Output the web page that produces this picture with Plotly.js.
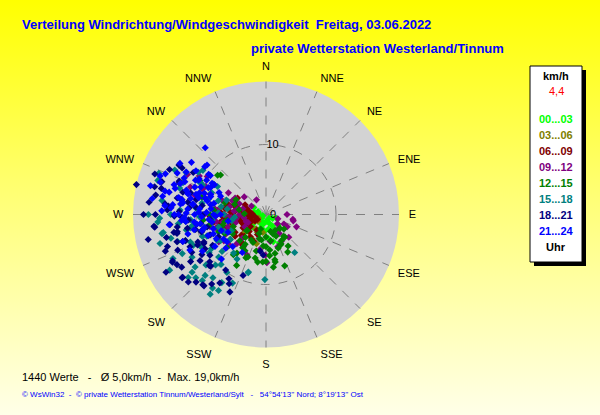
<!DOCTYPE html>
<html>
<head>
<meta charset="utf-8">
<script src="https://cdn.plot.ly/plotly-3.0.1.min.js"></script>
<style>
html,body{margin:0;padding:0;}
body{width:600px;height:415px;background:linear-gradient(to bottom,#ffff00 0%,#ffff70 45%,#ffffe8 100%);}
#chart{width:600px;height:415px;}
</style>
</head>
<body>
<div id="chart"></div>
<script>
// ---- data (r in km/h, theta in compass degrees) ----
const dirLabels = ['N','NNE','NE','ENE','E','ESE','SE','SSE','S','SSW','SW','WSW','W','WNW','NW','NNW'];
const dirAngles = [0,22.5,45,67.5,90,112.5,135,157.5,180,202.5,225,247.5,270,292.5,315,337.5];
const groupLabels = ['00...03','03...06','06...09','09...12','12...15','15...18','18...21','21...24'];
const groupColors = ['#00ff00','#808000','#800000','#800080','#008000','#008080','#000080','#0000ff'];
const radialTicks = [0,10];

const r0003 = [0.5,0.8,1.0,1.2,1.5,1.8,2.0,2.2,2.5,1.0,1.4,1.7,2.1,2.6,3.0,0.7,1.3,1.9,2.4,2.8,3.2,3.6,4.0,4.5,1.1,1.6,2.3,2.9,3.4,1.2,2.0,2.7,3.5,1.5,2.5];
const t0003 = [250,230,270,215,245,260,200,235,255,180,195,280,170,225,240,140,160,150,185,205,260,250,165,155,120,110,130,145,175,290,300,275,235,210,190];

const r0306 = [1.5,2.0,2.5,3.0,3.5,4.4,2.2,2.8,3.3,1.8,4.0,3.8,2.6,1.2,3.1,2.4,4.2,3.6];
const t0306 = [230,240,215,250,225,198,260,205,240,255,210,265,190,245,235,275,230,250];

const r0609 = [2.0,2.5,3.0,3.5,4.0,4.5,5.0,5.5,6.0,6.5,7.0,7.5,3.2,3.8,4.4,5.2,5.8,6.4,2.8,3.6,4.8,5.6,6.2,7.2,2.3,3.1,4.1,5.1,6.1,3.4,4.6,5.4,2.6,3.9,5.3,6.7,5.5,3.1,4.2,1.8,2.4,3.3,4.7,6.9,8.0,
  1.6,2.1,2.7,3.3,3.9,4.5,5.1,5.7,6.3,2.4,3.0,3.6,4.2,4.8,5.4,6.0,2.0,2.9,3.7,4.9,5.9,6.6,1.4,3.4,4.4];
const t0609 = [265,255,270,245,260,275,250,265,280,255,270,262,285,240,290,258,248,272,232,278,268,285,262,255,245,250,282,240,266,225,230,235,210,215,222,260,218,203,205,240,280,295,300,275,268,
  258,262,266,270,263,257,274,268,262,248,242,276,282,286,244,252,274,287,253,262,278,250,240,230,225];

const r0912 = [2.1,4.0,3.9,5.8,2.9,3.9,6.9,4.9,12.6,10.0,4.0,2.5,5.0,6.0,7.0,8.0,9.0,4.5,5.5,6.5,7.5,8.5,3.5,4.2,5.2,6.2,7.2,3.0,5.8,6.8,4.8,7.8,9.5,10.5,11.0,3.3,4.4,6.4,5.6,2.7,3.6,5.1,7.4,8.8,6.6,1.8,3.0,4.6,2.4,5.9,
  3.2,3.8,4.6,5.3,6.1,6.8,7.6,8.2,3.4,4.1,5.0,5.7,6.4,7.1,4.3,5.4,6.3,7.3,2.8,8.6,9.8,11.5,3.5,4.7];
const t0912 = [129,103,171,181,118,100,179,160,297,303,309,327,265,270,275,280,285,255,260,250,268,290,240,280,292,300,262,250,245,230,225,240,295,285,300,145,150,205,215,140,195,190,255,270,288,110,90,135,300,225,
  262,270,276,282,288,272,266,258,284,292,298,252,244,238,262,266,260,276,246,300,292,290,120,112];

const r1215 = [3.3,4.8,5.7,5.1,4.0,4.2,6.4,6.6,6.9,7.4,6.9,4.7,6.6,6.8,6.9,3.0,2.6,3.8,4.5,5.5,8.9,10.9,4.8,6.1,8.6,10.6,5.0,6.0,7.0,8.0,4.5,5.5,6.5,7.5,3.5,4.2,5.3,6.3,7.3,9.0,2.2,3.2,3.6,4.4,5.8,9.5,6.2,7.8,2.8,5.2,
  3.1,3.9,4.7,5.6,6.4,7.2,8.1,3.6,4.4,5.2,6.0,6.8,2.5,3.4,4.3,5.1,5.9,6.7,7.6,2.9,3.7,4.6,5.4,8.4];
const t1215 = [129,154,167,174,141,140,194,203,169,219,217,153,169,184,190,160,150,170,185,145,309,297,296,286,311,297,250,260,255,270,265,240,245,275,230,210,225,235,230,265,200,180,195,205,215,285,150,160,135,245,
  272,280,288,262,256,250,260,230,222,215,210,205,165,155,148,160,175,180,172,200,190,180,195,210];

const r1518 = [16.2,15.0,15.7,15.1,14.7,13.2,13.4,13.5,13.9,12.8,9.3,6.8,8.7,7.6,12.9,12.9,15.2,14.9,13.2,14.3,12.3,13.0,12.6,11.6,16.4,12.3,12.7,10.0,8.6,9.1,5.0,6.0,7.0,8.0,9.0,10.0,11.0,5.5,6.5,7.5,8.5,9.5,10.5,11.5,6.2,8.2,10.2,12.2,7.2,9.2,4.5,6.0,8.0,10.0,11.0,
  6.8,7.7,8.9,9.6,10.4,11.3,12.1,7.1,8.4,9.3,10.8,11.6,12.6,13.6,6.4,7.9,9.8,11.2,5.6,8.7,10.6,12.4,14.0,15.5,
  11.8,10.9,13.1,9.6,15.9,16.8,14.5,11.4];
const t1518 = [287.5,277.7,254.7,259.6,244.7,245,232,228,215,212,181,143,197,213,297.7,287,268,260,253,231,225,216,233.5,213,291,273,291,214,197,228,260,270,255,265,250,275,260,245,280,240,285,268,262,250,235,230,225,240,220,238,265,290,300,295,305,
  272,264,258,251,244,247,252,286,292,280,266,259,264,270,248,242,236,230,278,300,296,280,256,266,
  220,206,224,222,240,270,296,302];

const r1821 = [19.0,13.7,15.6,15.4,14.5,16.1,13.4,13.3,14.9,14.6,14.9,13.5,10.6,11.2,11.5,10.9,9.3,5.3,5.8,9.6,16.0,12.9,15.0,15.0,13.5,10.8,11.8,10.0,14.3,16.4,16.0,14.1,12.9,8.0,9.0,10.0,11.0,12.0,13.0,8.5,9.5,10.5,11.5,12.5,7.5,9.2,10.2,11.2,12.2,13.2,8.8,9.8,10.8,14.0,12.0,
  9.4,10.3,11.1,12.4,13.1,13.8,14.6,15.3,10.7,11.9,12.7,9.9,10.5,12.1,13.6,14.2,8.6,9.7,11.4,12.8,14.8,15.8,10.1,11.3,12.3,13.3,16.8,17.5,
  12.6,13.9,11.8,14.7,9.8,12.2,16.5,17.2,16.9,15.2];
const t1821 = [283,299,287.5,284,276,264,259,253,243.6,240.6,233,221,210,208,235,228,200.6,189,184,255.5,263.5,259,243,233,222,227,247,240.6,299.6,284,280,272.6,280.5,265,270,262,275,268,258,250,255,248,265,252,245,278,282,286,280,290,240,245,238,275,300,
  262,258,266,272,269,264,257,250,246,243,238,234,230,252,248,238,258,246,260,262,252,270,276,279,285,291,276,270,
  218,226,214,229,216,205,240,258,290,295];

const r2124 = [17.0,16.1,12.9,11.1,14.3,6.6,6.4,14.9,8.0,9.0,10.0,11.0,12.0,13.0,14.0,7.5,8.5,9.5,10.5,11.5,12.5,13.5,8.2,9.2,10.2,11.2,12.2,7.0,8.8,9.8,10.8,11.8,12.8,13.8,9.5,10.5,11.5,12.5,7.8,8.8,6.0,7.0,8.0,9.0,10.0,11.5,12.5,15.0,15.5,6.8,7.5,9.0,10.5,12.0,5.5,8.5,13.0,14.5,10.0,11.0,
  7.2,7.9,8.6,9.3,10.1,10.8,11.6,12.3,13.1,8.4,9.1,9.9,10.6,11.4,12.1,7.6,8.3,9.6,10.4,11.2,12.7,13.4,14.2,8.9,9.7,10.9,11.9,7.4,12.9,15.8,6.5,7.8,9.4,10.3,11.7,13.6,
  6.8,7.9,8.6,14.8,16.4,13.9];
const t2124 = [284,290,317.7,308,300.7,226,212,272,280,285,288,282,278,290,295,270,272,275,278,285,292,286,265,268,270,274,280,292,296,300,298,302,294,288,262,258,265,270,255,250,245,240,250,258,262,256,252,280,292,235,230,225,240,245,260,300,305,275,305,310,
  268,276,283,289,293,297,285,277,270,290,295,284,278,271,266,282,288,272,286,296,281,276,283,300,305,291,287,295,298,287,270,262,256,264,268,274,
  250,244,238,283,278,264];

const seriesR = [r0003,r0306,r0609,r0912,r1215,r1518,r1821,r2124];
const seriesT = [t0003,t0306,t0609,t0912,t1215,t1518,t1821,t2124];

const titleText = 'Verteilung Windrichtung/Windgeschwindigkeit  Freitag, 03.06.2022';
const subtitleText = 'private Wetterstation Westerland/Tinnum';
const statsText = '1440 Werte   -   Ø 5,0km/h  -  Max. 19,0km/h';
const footerText = '© WsWin32  -  © private Wetterstation Tinnum/Westerland/Sylt   -   54°54\'13\'\' Nord; 8°19\'13\'\' Ost';
const currentValue = '4,4';

// ---- traces ----
const traces = groupLabels.map((lab,i)=>({
  type:'scatterpolar', mode:'markers', name:lab,
  r: seriesR[i], theta: seriesT[i],
  marker:{symbol:'diamond', size:5.5, color:groupColors[i], line:{width:0}},
  hoverinfo:'r+theta+name'
}));

const F = 'Arial, "Liberation Sans", sans-serif';
const annotations = [
  {text:'<b>'+titleText+'</b>', x:20, y:25, xanchor:'left', yanchor:'middle', showarrow:false, font:{family:F, size:13, color:'#0000ff'}},
  {text:'<b>'+subtitleText+'</b>', x:249, y:48, xanchor:'left', yanchor:'middle', showarrow:false, font:{family:F, size:13, color:'#0000ff'}},
  {text:statsText, x:20, y:377, xanchor:'left', yanchor:'middle', showarrow:false, font:{family:F, size:11, color:'#000000'}},
  {text:footerText, x:20, y:394, xanchor:'left', yanchor:'middle', showarrow:false, font:{family:F, size:8, color:'#0000ff'}},
  {text:'<b>km/h</b>', x:556, y:76, xanchor:'center', yanchor:'middle', showarrow:false, font:{family:F, size:11, color:'#000000'}},
  {text:currentValue, x:556, y:91, xanchor:'center', yanchor:'middle', showarrow:false, font:{family:F, size:11, color:'#ff0000'}},
  {text:'<b>Uhr</b>', x:556, y:247, xanchor:'center', yanchor:'middle', showarrow:false, font:{family:F, size:11, color:'#000000'}},
  {text:String(radialTicks[0]), x:273, y:214, xanchor:'center', yanchor:'middle', showarrow:false, font:{family:F, size:11, color:'#000000'}}
];
groupLabels.forEach((lab,i)=>{
  annotations.push({text:'<b>'+lab+'</b>', x:556, y:119+16*i, xanchor:'center', yanchor:'middle', showarrow:false, font:{family:F, size:11, color:groupColors[i]}});
});
// pixel-based annotation coordinates -> paper
annotations.forEach(a=>{a.xref='paper'; a.yref='paper'; a.x=a.x/600; a.y=1-a.y/415;});

const shapes = [
  {type:'rect', xref:'paper', yref:'paper', x0:534/600, x1:586/600, y0:1-266/415, y1:1-70/415, fillcolor:'#000000', line:{width:0}, layer:'below'},
  {type:'rect', xref:'paper', yref:'paper', x0:530/600, x1:582/600, y0:1-262/415, y1:1-66/415, fillcolor:'#ffffff', line:{color:'#000000', width:1}, layer:'below'}
];

const layout = {
  width:600, height:415,
  margin:{l:0,r:0,t:0,b:0},
  paper_bgcolor:'rgba(0,0,0,0)',
  plot_bgcolor:'rgba(0,0,0,0)',
  showlegend:false,
  font:{family:F, size:11, color:'#000'},
  polar:{
    domain:{x:[133/600, 399/600], y:[1-347.5/415, 1-81.5/415]},
    bgcolor:'#d3d3d3',
    angularaxis:{
      rotation:90, direction:'clockwise',
      tickmode:'array', tickvals:dirAngles, ticktext:dirLabels,
      showgrid:true, gridcolor:'#808080', griddash:'dash', gridwidth:1,
      showline:false, ticks:'outside', ticklen:7, tickcolor:'rgba(0,0,0,0)',
      tickfont:{family:F, size:11, color:'#000'}
    },
    radialaxis:{
      range:[0,19], tickmode:'array', tickvals:radialTicks, ticktext:['', String(radialTicks[1])],
      showgrid:true, gridcolor:'#808080', griddash:'dash', gridwidth:1,
      showline:false, ticks:'', angle:90, tickangle:90,
      tickfont:{family:F, size:11, color:'#000'}
    }
  },
  annotations: annotations,
  shapes: shapes
};

Plotly.newPlot('chart', traces, layout, {displayModeBar:false, staticPlot:true});
</script>
</body>
</html>
